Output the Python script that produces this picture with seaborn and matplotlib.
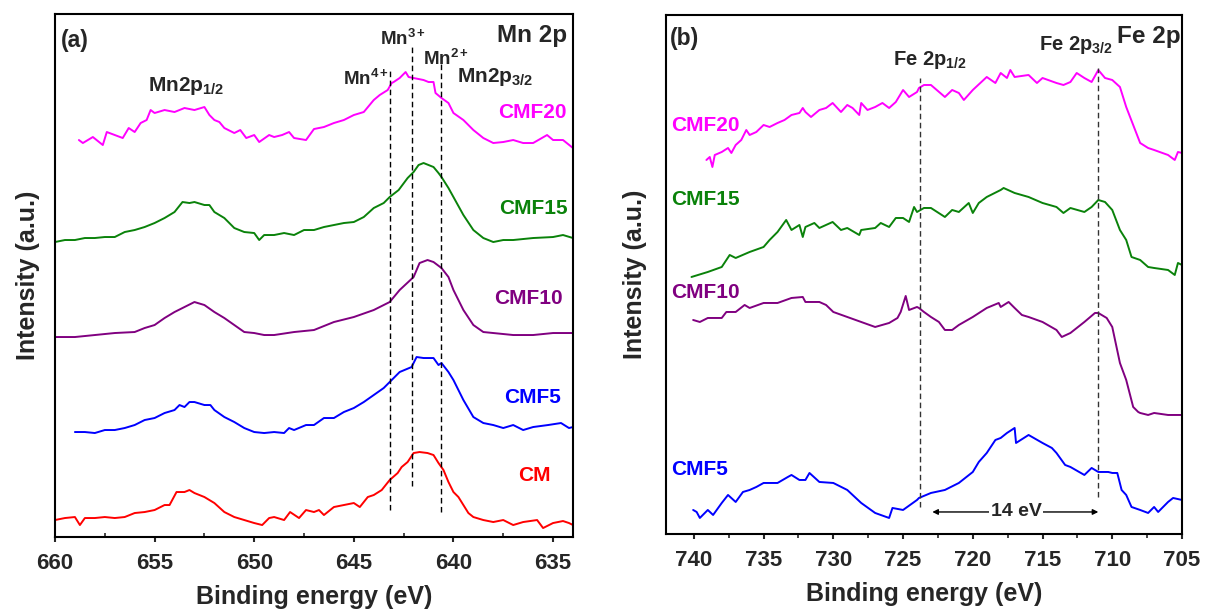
import seaborn as sns
import numpy as np
import matplotlib.pyplot as plt
import pandas as pd

# ---- panel (a): Mn 2p, binding energy (eV) / stacked intensity (a.u.)
mn_cm_e = [660.0, 659.5, 659.0, 658.75, 658.5, 658.0, 657.5, 657.0, 656.5, 656.0, 655.5, 655.0,
           654.5, 654.25, 653.9, 653.5, 653.25, 653.0, 652.5, 652.0, 651.5, 651.0, 650.5, 650.0,
           649.6, 649.25, 649.0, 648.5, 648.2, 647.75, 647.4, 647.0, 646.75, 646.5, 646.0, 645.5,
           645.0, 644.7, 644.3, 644.0, 643.6, 643.2, 642.8, 642.6, 642.3, 642.0, 641.7, 641.3,
           641.0, 640.75, 640.5, 640.25, 640.0, 639.75, 639.5, 639.25, 639.0, 638.5, 638.0, 637.5,
           637.0, 636.5, 635.8, 635.5, 635.0, 634.5, 634.2, 634.0]
mn_cm_i = [17, 19, 20, 12, 19, 19, 20, 19, 20, 24, 25, 27,
           32, 32, 45, 45, 47, 44, 40, 34, 25, 20, 17, 14,
           12, 19, 20, 17, 25, 19, 27, 25, 27, 22, 30, 32,
           34, 30, 40, 42, 47, 57, 64, 70, 75, 84, 85, 84,
           82, 74, 67, 55, 45, 40, 32, 24, 20, 17, 15, 17,
           12, 15, 17, 9, 14, 16, 14, 12]

mn_cmf5_e = [659.0, 658.5, 658.0, 657.5, 657.0, 656.5, 656.0, 655.5, 655.0, 654.5, 654.0, 653.75,
             653.5, 653.25, 653.0, 652.5, 652.2, 652.0, 651.5, 651.0, 650.5, 650.0, 649.5, 649.0,
             648.5, 648.25, 648.0, 647.4, 647.0, 646.5, 646.0, 645.5, 645.0, 644.5, 644.0, 643.5,
             643.2, 642.7, 642.1, 641.85, 641.5, 641.0, 640.75, 640.6, 640.25, 640.0, 639.5, 639.0,
             638.5, 638.0, 637.5, 637.0, 636.5, 636.0, 635.25, 634.6, 634.2, 634.0]
mn_cmf5_i = [105, 105, 104, 107, 107, 109, 112, 117, 119, 124, 127, 132,
             130, 135, 135, 132, 132, 127, 120, 115, 109, 105, 104, 105,
             104, 109, 107, 112, 112, 119, 119, 125, 129, 135, 142, 149,
             155, 165, 170, 180, 179, 179, 172, 174, 165, 157, 137, 120,
             114, 112, 109, 112, 107, 110, 112, 114, 109, 110]

mn_cmf10_e = [660.0, 659.0, 658.0, 657.0, 656.0, 655.5, 655.0, 654.5, 654.0, 653.5, 653.0, 652.5,
              652.0, 651.5, 651.0, 650.5, 650.0, 649.5, 649.0, 648.0, 647.0, 646.0, 645.0, 644.0,
              643.2, 642.7, 642.0, 641.7, 641.3, 641.0, 640.6, 640.25, 640.0, 639.5, 639.0, 638.5,
              638.0, 637.0, 636.0, 635.0, 634.0]
mn_cmf10_i = [200, 200, 202, 204, 205, 209, 212, 219, 225, 230, 235, 232,
              225, 219, 212, 205, 204, 202, 202, 205, 207, 215, 220, 227,
              235, 247, 260, 274, 277, 275, 269, 260, 247, 227, 212, 205,
              204, 202, 202, 204, 204]

mn_cmf15_e = [660.0, 659.5, 659.0, 658.5, 658.0, 657.5, 657.0, 656.5, 656.0, 655.5, 655.0, 654.5,
              654.0, 653.6, 653.25, 653.0, 652.5, 652.25, 652.0, 651.5, 651.0, 650.5, 650.0, 649.75,
              649.5, 649.0, 648.5, 648.0, 647.5, 647.0, 646.5, 646.0, 645.5, 645.0, 644.5, 644.0,
              643.5, 643.2, 642.75, 642.3, 642.0, 641.75, 641.5, 641.0, 640.75, 640.6, 640.25, 640.0,
              639.5, 639.0, 638.5, 638.0, 637.5, 637.0, 636.0, 635.0, 634.5, 634.0]
mn_cmf15_i = [295, 297, 297, 299, 299, 300, 300, 305, 307, 310, 314, 319,
              325, 335, 334, 335, 332, 332, 325, 319, 309, 305, 304, 297,
              302, 302, 304, 302, 307, 307, 310, 312, 314, 315, 320, 329,
              334, 340, 347, 359, 365, 372, 374, 370, 364, 360, 349, 340,
              322, 307, 299, 295, 297, 297, 299, 300, 302, 299]

mn_cmf20_e = [658.8, 658.6, 658.1, 657.6, 657.4, 657.0, 656.6, 656.3, 656.0, 655.7, 655.4, 655.2,
              655.0, 654.5, 654.0, 653.5, 653.0, 652.5, 652.25, 652.0, 651.75, 651.5, 651.0, 650.7,
              650.4, 650.0, 649.75, 649.25, 649.0, 648.6, 648.25, 648.0, 647.4, 647.0, 646.5, 646.0,
              645.5, 645.0, 644.5, 644.0, 643.7, 643.3, 643.1, 643.0, 642.7, 642.4, 642.25, 642.0,
              641.5, 641.25, 641.0, 640.9, 640.6, 640.25, 640.0, 639.5, 639.0, 638.5, 638.0, 637.5,
              637.0, 636.5, 636.0, 635.3, 635.0, 634.5, 634.0]
mn_cmf20_i = [397, 394, 400, 392, 405, 402, 399, 409, 405, 414, 417, 427,
              424, 427, 425, 429, 427, 430, 422, 417, 415, 409, 404, 407,
              399, 402, 395, 402, 400, 402, 405, 399, 397, 408, 410, 414,
              417, 422, 425, 437, 442, 447, 454, 455, 459, 465, 460, 459,
              457, 455, 455, 444, 439, 434, 424, 417, 407, 399, 394, 395,
              397, 394, 394, 402, 397, 397, 389]

# Mn oxidation state reference lines: energy, bottom, top
mn_ref_e = [643.2, 642.1, 640.6]
mn_ref_lo = [27, 51, 25]
mn_ref_hi = [469, 492, 475]

# ---- panel (b): Fe 2p
fe_cmf5_e = [740.05, 739.8, 739.57, 739.0, 738.62, 738.0, 737.55, 737.0, 736.48, 736.0, 735.52, 735.0,
             734.0, 733.26, 733.0, 732.43, 732.0, 731.71, 731.0, 730.0, 729.0, 728.0, 727.0, 726.0,
             725.76, 725.0, 724.0, 723.86, 723.0, 722.0, 721.0, 720.0, 719.57, 719.0, 718.38, 718.0,
             717.55, 717.0, 716.9, 716.0, 715.0, 714.33, 714.0, 713.38, 713.0, 712.0, 711.48, 711.0,
             710.29, 710.0, 709.64, 709.33, 709.0, 708.62, 708.0, 707.43, 707.0, 706.71, 706.0, 705.64,
             705.0]
fe_cmf5_i = [24, 22, 16, 24, 19, 31, 39, 32, 42, 44, 47, 51,
             51, 57, 59, 54, 54, 61, 52, 51, 44, 31, 21, 16,
             26, 24, 34, 36, 41, 44, 51, 62, 72, 81, 94, 96,
             101, 106, 91, 99, 91, 86, 81, 69, 67, 59, 66, 62,
             62, 61, 61, 44, 39, 27, 24, 21, 27, 22, 32, 36,
             34]

fe_cmf10_e = [740.05, 739.57, 739.0, 738.0, 737.67, 737.0, 736.36, 736.0, 735.0, 734.0, 733.0, 732.19,
              732.0, 731.0, 730.52, 730.0, 729.0, 728.0, 727.0, 726.0, 725.4, 725.17, 724.81, 724.57,
              724.0, 723.86, 723.5, 723.0, 722.43, 722.0, 721.48, 721.0, 720.0, 719.0, 718.14, 718.0,
              717.43, 717.0, 716.48, 716.0, 715.0, 714.0, 713.62, 713.0, 712.0, 711.24, 711.0, 710.4,
              710.0, 709.45, 709.0, 708.5, 708.14, 708.0, 707.43, 707.0, 706.0, 705.0]
fe_cmf10_i = [214, 212, 216, 216, 222, 222, 229, 226, 231, 231, 236, 237,
              232, 232, 229, 222, 217, 212, 207, 211, 216, 222, 238, 224,
              227, 226, 222, 217, 212, 204, 204, 209, 217, 226, 231, 227,
              232, 226, 219, 217, 212, 204, 197, 201, 212, 221, 221, 216,
              207, 171, 154, 127, 122, 121, 119, 121, 119, 119]

fe_cmf15_e = [740.17, 739.0, 738.0, 737.43, 737.0, 736.0, 735.0, 734.57, 734.0, 733.38, 733.0, 732.43,
              732.19, 732.0, 731.36, 731.0, 730.05, 729.45, 729.0, 728.14, 728.0, 727.0, 726.6, 726.0,
              725.52, 725.0, 724.57, 724.21, 724.0, 723.5, 723.0, 722.0, 721.48, 721.0, 720.29, 720.0,
              719.57, 719.0, 718.0, 717.79, 717.0, 716.0, 715.0, 714.0, 713.5, 713.0, 712.0, 711.48,
              711.0, 710.52, 710.0, 709.45, 709.0, 708.62, 708.0, 707.43, 707.0, 706.0, 705.52, 705.29,
              705.0]
fe_cmf15_i = [257, 262, 267, 279, 276, 282, 287, 294, 302, 314, 304, 309,
              297, 307, 311, 306, 312, 304, 306, 299, 304, 306, 311, 307,
              316, 316, 312, 327, 322, 326, 326, 317, 324, 322, 331, 321,
              331, 337, 344, 346, 341, 337, 331, 327, 321, 326, 322, 327,
              334, 332, 324, 304, 294, 277, 274, 267, 266, 264, 259, 271,
              269]

fe_cmf20_e = [739.1, 738.86, 738.67, 738.5, 738.0, 737.55, 737.31, 737.0, 736.6, 736.24, 736.0, 735.52,
              735.0, 734.57, 734.0, 733.5, 733.0, 732.43, 732.19, 732.0, 731.6, 731.0, 730.52, 730.05,
              729.45, 729.0, 728.62, 728.14, 728.0, 727.55, 727.0, 726.48, 726.0, 725.52, 725.0, 724.57,
              724.0, 723.86, 723.5, 723.0, 722.0, 721.48, 721.0, 720.64, 720.0, 719.0, 718.38, 718.0,
              717.55, 717.31, 717.0, 716.0, 715.4, 715.0, 714.0, 713.5, 713.0, 712.55, 712.0, 711.48,
              711.0, 710.52, 710.0, 709.45, 709.0, 708.5, 708.0, 707.43, 707.0, 706.0, 705.52, 705.29,
              705.0]
fe_cmf20_i = [374, 377, 367, 379, 382, 386, 381, 389, 394, 404, 399, 402,
              409, 407, 411, 414, 419, 421, 426, 422, 417, 424, 426, 431,
              422, 429, 426, 419, 431, 424, 427, 431, 426, 432, 444, 437,
              442, 446, 449, 449, 437, 444, 441, 434, 444, 457, 451, 461,
              456, 464, 457, 459, 451, 456, 451, 449, 452, 461, 456, 452,
              464, 456, 454, 447, 427, 409, 391, 386, 384, 379, 374, 382,
              381]

fe_ref_e = [723.8, 711.0]
fe_ref_lo = [27, 37]
fe_ref_hi = [456, 466]

samples = ["CM", "CMF5", "CMF10", "CMF15", "CMF20"]
colors = {"CM": "#FF0000", "CMF5": "#0000FF", "CMF10": "#800080",
          "CMF15": "#0A820A", "CMF20": "#FF00FF"}

mn_df = pd.concat([
    pd.DataFrame({"E": mn_cm_e, "I": mn_cm_i, "sample": "CM"}),
    pd.DataFrame({"E": mn_cmf5_e, "I": mn_cmf5_i, "sample": "CMF5"}),
    pd.DataFrame({"E": mn_cmf10_e, "I": mn_cmf10_i, "sample": "CMF10"}),
    pd.DataFrame({"E": mn_cmf15_e, "I": mn_cmf15_i, "sample": "CMF15"}),
    pd.DataFrame({"E": mn_cmf20_e, "I": mn_cmf20_i, "sample": "CMF20"}),
], ignore_index=True)

fe_df = pd.concat([
    pd.DataFrame({"E": fe_cmf5_e, "I": fe_cmf5_i, "sample": "CMF5"}),
    pd.DataFrame({"E": fe_cmf10_e, "I": fe_cmf10_i, "sample": "CMF10"}),
    pd.DataFrame({"E": fe_cmf15_e, "I": fe_cmf15_i, "sample": "CMF15"}),
    pd.DataFrame({"E": fe_cmf20_e, "I": fe_cmf20_i, "sample": "CMF20"}),
], ignore_index=True)

sns.set_style("ticks")
plt.rcParams['font.family'] = ['Liberation Sans', 'DejaVu Sans']
plt.rcParams['font.weight'] = 'bold'
plt.rcParams['axes.labelweight'] = 'bold'
plt.rcParams['mathtext.fontset'] = 'custom'
plt.rcParams['mathtext.rm'] = 'Liberation Sans:bold'
plt.rcParams['mathtext.bf'] = 'Liberation Sans:bold'
plt.rcParams['mathtext.it'] = 'Liberation Sans:bold'

fig = plt.figure(figsize=(12.06, 6.12), dpi=100)
ax1 = fig.add_axes([0.0456, 0.1225, 0.4295, 0.8546])
ax2 = fig.add_axes([0.5522, 0.1275, 0.4279, 0.848])

sns.lineplot(data=mn_df, x="E", y="I", hue="sample", palette=colors, estimator=None,
             sort=False, legend=False, lw=1.4, ax=ax1)
sns.lineplot(data=fe_df, x="E", y="I", hue="sample", palette=colors, estimator=None,
             sort=False, legend=False, lw=1.4, ax=ax2)

ax1.set_xlim(660, 634)
ax1.set_ylim(0, 523)
ax2.set_xlim(742, 705)
ax2.set_ylim(0, 519)

ax1.vlines(mn_ref_e, mn_ref_lo, mn_ref_hi, colors="k", linestyles=(0, (4, 2.5)), lw=1)
ax2.vlines(fe_ref_e, fe_ref_lo, fe_ref_hi, colors="#333333", linestyles=(0, (4, 2.5)), lw=1)

for ax in (ax1, ax2):
    for s in ax.spines.values():
        s.set_linewidth(1.5)
        s.set_color("k")
    ax.set_yticks([])
    ax.set_xlabel("Binding energy (eV)", fontsize=18, labelpad=8)
    ax.tick_params(axis="x", which="major", direction="out", length=3.5, width=1.5,
                   labelsize=16, pad=8)

ax1.set_xticks([660, 655, 650, 645, 640, 635])
ax1.set_xticks(np.arange(657.5, 634, -5), minor=True)
ax1.tick_params(axis="x", which="minor", direction="in", length=3, width=1.2)
ax2.set_xticks([740, 735, 730, 725, 720, 715, 710, 705])
ax2.set_xticks(np.arange(737.5, 704, -5), minor=True)
ax2.tick_params(axis="x", which="minor", direction="out", length=3, width=1.2)

ax1.set_ylabel("Intensity (a.u.)", fontsize=18, labelpad=11)
ax2.set_ylabel("Intensity (a.u.)", fontsize=18, labelpad=14)

# curve labels
mn_lab_e = [635.1, 634.6, 634.5, 634.25, 634.3]
mn_lab_y = [62, 140, 239, 329, 425]
for name, e, y in zip(samples, mn_lab_e, mn_lab_y):
    ax1.text(e, y, name, color=colors[name], fontsize=15, ha="right", va="center")

fe_lab_y = [64, 241, 334, 408]
for name, y in zip(samples[1:], fe_lab_y):
    ax2.text(741.6, y, name, color=colors[name], fontsize=15, ha="left", va="center")

ax1.text(659.7, 497, "(a)", fontsize=16.5, ha="left", va="center")
ax1.text(634.3, 502, "Mn 2p", fontsize=17.5, ha="right", va="center")
ax1.text(653.4, 446, r"Mn2p$_{1/2}$", fontsize=15, ha="center", va="baseline")
ax1.text(637.9, 455, r"Mn2p$_{3/2}$", fontsize=15, ha="center", va="baseline")
ax1.text(644.4, 452, r"Mn$^{4+}$", fontsize=13.5, ha="center", va="baseline")
ax1.text(642.55, 492, r"Mn$^{3+}$", fontsize=13.5, ha="center", va="baseline")
ax1.text(640.35, 472, r"Mn$^{2+}$", fontsize=13.5, ha="center", va="baseline")

ax2.text(741.7, 495, "(b)", fontsize=16.5, ha="left", va="center")
ax2.text(705.1, 497, "Fe 2p", fontsize=17.5, ha="right", va="center")
ax2.text(723.1, 469, r"Fe 2p$_{1/2}$", fontsize=14.5, ha="center", va="baseline")
ax2.text(712.6, 484, r"Fe 2p$_{3/2}$", fontsize=14.5, ha="center", va="baseline")

ax2.annotate("", xy=(710.8, 22), xytext=(723.1, 22),
             arrowprops=dict(arrowstyle="<|-|>", color="k", lw=1, mutation_scale=8))
ax2.text(716.9, 22, "14 eV", fontsize=14, ha="center", va="center",
         bbox=dict(facecolor="white", edgecolor="none", pad=1))

fig.savefig("out.png", dpi=100)
